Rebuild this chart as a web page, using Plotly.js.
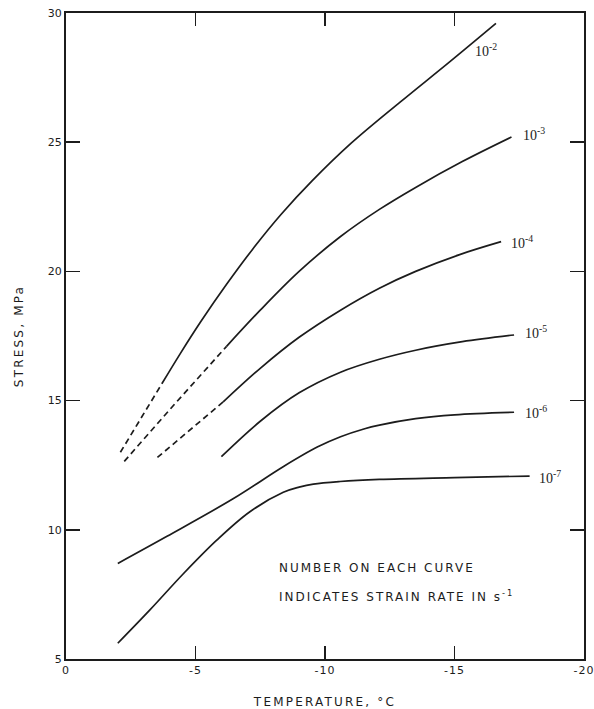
<!DOCTYPE html>
<html>
<head>
<meta charset="utf-8">
<script src="https://cdn.plot.ly/plotly-3.0.1.min.js"></script>
<style>
  html, body { margin: 0; padding: 0; background: #fff; }
  #chart { width: 594px; height: 709px; }
  #chart .xtitle, #chart .ytitle { letter-spacing: 2.2px; }
  #chart g.annotation[data-index="6"] text,
  #chart g.annotation[data-index="7"] text { letter-spacing: 2px; }
  #chart .xtick text { letter-spacing: 1px; }
</style>
</head>
<body>
<div id="chart"></div>
<script>
// ---- data (temperature in °C, stress in MPa) ----
const rateLabels = ["10<sup>-2</sup>", "10<sup>-3</sup>", "10<sup>-4</sup>", "10<sup>-5</sup>", "10<sup>-6</sup>", "10<sup>-7</sup>"];

// dashed (extrapolated) portions
const tE2dash = [-2.1, -2.9, -3.7];
const sE2dash = [13.0, 14.35, 15.65];
const tE3dash = [-2.25, -4.2, -6.2];
const sE3dash = [12.65, 14.87, 17.1];
const tE4dash = [-3.53, -4.8, -6.07];
const sE4dash = [12.8, 13.87, 14.95];

// solid portions
const tE2 = [-3.7, -4.4, -5.2, -6.2, -7.2, -8.3, -9.5, -11.0, -12.9, -14.8, -16.6];
const sE2 = [15.65, 16.8, 18.05, 19.5, 20.85, 22.2, 23.5, 24.95, 26.55, 28.1, 29.6];
const tE3 = [-6.2, -7.5, -9.0, -10.6, -12.1, -13.5, -15.3, -17.2];
const sE3 = [17.1, 18.5, 20.0, 21.35, 22.4, 23.25, 24.25, 25.2];
const tE4 = [-6.07, -7.5, -9.0, -10.6, -12.1, -13.5, -15.2, -16.8];
const sE4 = [14.95, 16.25, 17.45, 18.5, 19.35, 20.0, 20.65, 21.15];
const tE5 = [-6.0, -7.5, -9.0, -10.6, -12.1, -13.5, -15.3, -17.3];
const sE5 = [12.83, 14.2, 15.3, 16.1, 16.6, 16.95, 17.28, 17.54];
const tE6 = [-2.0, -3.9, -6.45, -8.4, -9.7, -10.6, -11.5, -12.1, -13.5, -15.0, -17.3];
const sE6 = [8.7, 9.75, 11.2, 12.45, 13.2, 13.6, 13.9, 14.05, 14.3, 14.45, 14.55];
const tE7 = [-2.0, -3.24, -4.53, -5.82, -7.1, -8.39, -9.0, -9.55, -10.58, -12.1, -15.0, -17.9];
const sE7 = [5.61, 6.9, 8.3, 9.6, 10.7, 11.45, 11.65, 11.77, 11.87, 11.95, 12.02, 12.08];

// curve label anchor positions (temperature, stress)
const labelT = [-15.7, -17.55, -17.1, -17.65, -17.65, -18.2];
const labelS = [28.55, 25.3, 21.15, 17.65, 14.55, 12.05];

const xTickVals = [0, -5, -10, -15, -20];
const xTickText = ["0", "-5", "-10", "-15", "-20"];
const yTickVals = [5, 10, 15, 20, 25, 30];
const yTickText = ["5", "10", "15", "20", "25", "30"];

const noteLines = ["NUMBER ON EACH CURVE", "INDICATES STRAIN RATE IN s<sup>-1</sup>"];
const noteT = -8.15;
const noteS = [8.52, 7.45];

// ---- drawing ----
const ink = "#1c1c1c";
const noteSpacing = 2; // px letter spacing applied by CSS to the note lines
function solid(x, y) {
  return { x: x, y: y, type: "scatter", mode: "lines", hoverinfo: "skip",
    line: { color: ink, width: 1.7, shape: "spline", smoothing: 1 } };
}
function dashed(x, y) {
  return { x: x, y: y, type: "scatter", mode: "lines", hoverinfo: "skip",
    line: { color: ink, width: 1.7, dash: "6px,4px" } };
}

const traces = [
  dashed(tE2dash, sE2dash), dashed(tE3dash, sE3dash), dashed(tE4dash, sE4dash),
  solid(tE2, sE2), solid(tE3, sE3), solid(tE4, sE4),
  solid(tE5, sE5), solid(tE6, sE6), solid(tE7, sE7)
];

const annotations = [];
for (let i = 0; i < rateLabels.length; i++) {
  annotations.push({ x: labelT[i], y: labelS[i], xref: "x", yref: "y",
    text: rateLabels[i], showarrow: false, xanchor: "left", yanchor: "middle",
    font: { family: "Liberation Serif, serif", size: 14, color: ink } });
}
for (let i = 0; i < noteLines.length; i++) {
  const nChars = noteLines[i].replace(/<[^>]+>/g, "").length;
  annotations.push({ x: noteT, y: noteS[i], xref: "x", yref: "y",
    text: noteLines[i], showarrow: false, xanchor: "left", yanchor: "middle",
    xshift: nChars * noteSpacing / 2,
    font: { family: "DejaVu Sans, sans-serif", size: 12, color: ink } });
}

const axisCommon = {
  ticks: "inside", tickwidth: 1.5, tickcolor: ink,
  showline: true, linewidth: 2, linecolor: ink, mirror: "ticks",
  showgrid: false, zeroline: false, tickmode: "array",
  tickfont: { family: "DejaVu Sans, sans-serif", size: 11, color: ink }
};

const layout = {
  width: 594, height: 709,
  margin: { l: 66, r: 10, t: 13, b: 50 },
  paper_bgcolor: "#fff", plot_bgcolor: "#fff",
  showlegend: false,
  xaxis: Object.assign({}, axisCommon, {
    range: [0, -20], tickvals: xTickVals, ticktext: xTickText, ticklen: 13,
    title: { text: "TEMPERATURE, °C", standoff: 22,
      font: { family: "DejaVu Sans, sans-serif", size: 12, color: ink } }
  }),
  yaxis: Object.assign({}, axisCommon, {
    range: [5, 30], tickvals: yTickVals, ticktext: yTickText, ticklen: 14,
    title: { text: "STRESS, MPa", standoff: 22,
      font: { family: "DejaVu Sans, sans-serif", size: 12, color: ink } }
  }),
  annotations: annotations
};

Plotly.newPlot("chart", traces, layout, { staticPlot: true, displayModeBar: false });
</script>
</body>
</html>
